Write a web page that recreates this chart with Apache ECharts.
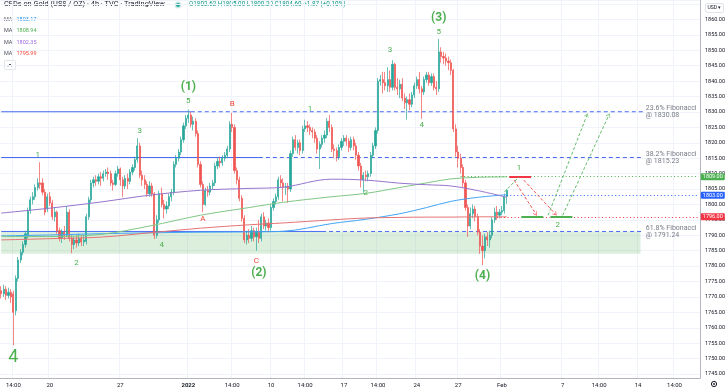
<!DOCTYPE html>
<html><head><meta charset="utf-8">
<script src="https://cdn.jsdelivr.net/npm/echarts@6/dist/echarts.min.js"></script>
<style>html,body{margin:0;padding:0;background:#fff}#c{width:728px;height:391px}</style>
</head><body><div id="c"></div>
<script>
// ---------- data ----------
const slotCount = 288;               // time slots on the axis (candles + future space)
// [open, close, low, high]
const candles = [
[1772.0,1771.0,1769.5,1773.5],[1771.0,1772.5,1770.0,1774.0],[1772.5,1770.5,1769.0,1773.5],[1770.5,1771.5,1769.5,1773.0],[1771.5,1770.0,1768.0,1772.5],
[1771.0,1765.0,1754.3,1772.0],[1765.5,1776.0,1764.0,1777.0],[1776.0,1782.0,1775.0,1783.0],[1782.0,1784.5,1781.0,1785.5],[1784.5,1787.0,1783.5,1788.0],
[1787.0,1790.5,1786.0,1791.5],[1789.5,1798.0,1789.0,1799.0],[1798.0,1801.5,1797.0,1802.5],[1801.5,1802.5,1800.0,1804.0],[1802.5,1805.5,1801.5,1806.5],
[1805.5,1807.0,1804.5,1808.5],[1807.0,1806.5,1805.0,1813.7],[1807.0,1804.0,1803.0,1808.5],[1804.0,1797.5,1796.5,1805.0],[1798.5,1802.5,1797.5,1803.5],
[1802.5,1800.5,1799.5,1804.0],[1800.5,1796.0,1795.0,1801.5],[1796.0,1797.5,1794.5,1799.0],[1797.5,1791.5,1790.5,1798.0],[1791.5,1789.0,1788.0,1792.5],
[1789.0,1791.0,1787.5,1792.0],[1791.0,1790.0,1788.5,1793.0],[1790.0,1797.5,1789.5,1799.5],[1797.5,1789.0,1788.0,1798.5],[1789.0,1787.0,1784.2,1790.0],
[1787.0,1788.5,1785.5,1789.5],[1788.5,1787.5,1786.0,1790.0],[1787.5,1789.0,1786.5,1790.5],[1789.0,1787.8,1786.5,1790.0],[1787.8,1788.5,1786.5,1790.0],
[1788.0,1796.0,1787.0,1797.0],[1796.0,1801.5,1795.0,1802.5],[1801.5,1807.0,1800.5,1808.0],[1807.0,1808.0,1805.5,1809.0],[1808.0,1807.5,1806.0,1809.5],
[1807.5,1809.0,1806.5,1810.0],[1809.0,1808.5,1806.0,1810.5],[1808.5,1810.0,1807.5,1811.0],[1810.0,1810.5,1809.0,1811.5],[1810.5,1810.0,1808.0,1812.0],
[1810.0,1807.0,1806.0,1811.0],[1807.0,1806.5,1804.5,1808.0],[1806.5,1810.0,1806.0,1811.0],[1810.0,1811.5,1809.0,1812.5],[1811.5,1808.0,1806.0,1812.0],
[1808.0,1806.0,1802.5,1809.0],[1806.0,1808.5,1805.0,1809.5],[1808.5,1807.5,1805.0,1810.0],[1807.5,1810.5,1806.5,1811.5],[1810.5,1812.0,1809.5,1813.0],
[1812.0,1814.5,1811.0,1815.5],[1814.5,1819.0,1813.5,1821.5],[1819.0,1809.5,1808.5,1820.0],[1809.5,1808.0,1806.0,1811.0],[1808.0,1806.5,1805.0,1809.5],
[1806.5,1803.5,1802.5,1807.5],[1803.5,1806.0,1802.5,1807.5],[1806.0,1803.5,1802.5,1807.0],[1803.5,1790.0,1788.8,1804.0],[1790.0,1795.0,1789.0,1796.5],
[1795.0,1803.5,1794.0,1804.5],[1803.5,1800.0,1799.0,1805.5],[1800.0,1798.5,1795.5,1801.5],[1798.5,1799.5,1797.0,1801.0],[1799.5,1802.5,1798.5,1803.5],
[1802.5,1804.0,1801.0,1805.0],[1804.0,1813.0,1803.0,1814.0],[1813.0,1815.0,1812.0,1816.0],[1815.0,1817.0,1814.0,1818.0],[1817.0,1821.0,1816.0,1822.0],
[1821.0,1825.5,1820.0,1826.5],[1825.5,1828.0,1824.5,1829.0],[1828.0,1829.0,1826.5,1830.8],[1829.0,1826.0,1825.0,1830.0],[1826.0,1827.0,1824.0,1828.5],
[1827.0,1823.0,1822.0,1828.0],[1823.0,1813.0,1812.0,1824.0],[1813.0,1806.5,1805.5,1814.0],[1806.5,1800.0,1797.5,1807.5],[1800.0,1804.5,1799.5,1805.5],
[1804.5,1804.0,1802.5,1806.0],[1804.0,1806.0,1803.0,1807.0],[1806.0,1807.0,1805.0,1808.0],[1807.0,1812.5,1806.0,1813.5],[1812.5,1814.0,1811.5,1815.0],
[1814.0,1813.5,1812.0,1815.5],[1813.5,1815.0,1812.5,1816.0],[1815.0,1816.0,1814.0,1817.0],[1816.0,1818.0,1815.0,1819.0],[1818.0,1826.0,1817.0,1827.0],
[1826.0,1825.0,1823.5,1829.7],[1825.0,1811.0,1810.0,1826.0],[1811.0,1808.0,1806.5,1812.0],[1808.0,1802.0,1801.0,1809.0],[1802.0,1795.5,1794.5,1803.0],
[1795.5,1788.5,1787.5,1796.5],[1788.5,1790.0,1787.0,1791.5],[1790.0,1789.0,1787.5,1792.0],[1789.0,1791.5,1788.0,1793.0],[1791.5,1789.5,1788.0,1792.5],
[1789.5,1791.0,1785.0,1792.5],[1791.0,1789.0,1787.5,1795.0],[1789.0,1796.0,1788.0,1797.0],[1796.0,1793.0,1792.0,1797.5],[1793.0,1794.0,1791.5,1795.0],
[1794.0,1792.5,1791.0,1795.5],[1792.5,1799.0,1791.5,1800.0],[1799.0,1801.0,1798.0,1802.0],[1801.0,1802.5,1800.0,1803.5],[1802.5,1808.0,1801.5,1809.0],
[1808.0,1807.0,1805.5,1809.5],[1807.0,1805.5,1801.0,1808.5],[1805.5,1805.8,1803.0,1807.0],[1805.8,1805.0,1800.5,1807.0],[1805.0,1816.5,1804.0,1817.5],
[1816.5,1821.0,1815.5,1822.0],[1821.0,1818.5,1817.5,1822.5],[1818.5,1820.0,1816.5,1821.0],[1820.0,1817.5,1816.0,1821.0],[1817.5,1824.5,1816.5,1825.5],
[1824.5,1825.5,1823.5,1827.5],[1825.5,1825.0,1823.5,1827.0],[1825.0,1824.0,1822.5,1826.0],[1824.0,1823.5,1821.5,1825.0],[1823.5,1821.5,1820.0,1824.5],
[1821.5,1818.0,1816.5,1822.5],[1818.0,1819.5,1811.5,1820.5],[1819.5,1821.5,1818.5,1822.5],[1821.5,1822.5,1820.0,1824.0],[1822.5,1827.0,1821.5,1828.0],
[1827.0,1825.0,1823.5,1829.0],[1825.0,1818.0,1817.0,1826.0],[1818.0,1817.5,1815.0,1819.5],[1817.5,1815.5,1814.0,1818.5],[1815.5,1818.5,1814.5,1819.5],
[1818.5,1820.5,1817.5,1821.5],[1820.5,1821.5,1819.0,1822.5],[1821.5,1820.5,1819.0,1822.5],[1820.5,1818.5,1817.0,1821.5],[1818.5,1821.0,1817.5,1822.0],
[1821.0,1819.0,1817.5,1822.0],[1819.0,1816.0,1814.5,1820.0],[1816.0,1812.5,1811.0,1817.0],[1812.5,1808.0,1805.5,1813.5],[1808.0,1809.5,1803.8,1810.5],
[1809.5,1809.0,1807.5,1811.0],[1809.0,1810.0,1807.5,1811.0],[1810.0,1816.0,1809.0,1817.0],[1816.0,1819.0,1815.0,1820.0],[1819.0,1824.0,1818.0,1825.0],
[1824.0,1840.0,1823.0,1841.0],[1840.0,1840.5,1838.5,1842.0],[1840.5,1839.5,1836.0,1843.0],[1839.5,1838.5,1837.0,1843.0],[1838.5,1840.5,1836.5,1844.5],
[1840.5,1838.0,1836.5,1843.5],[1838.0,1845.5,1837.0,1846.8],[1845.5,1838.0,1837.0,1846.0],[1838.0,1837.5,1835.5,1841.0],[1837.5,1839.0,1834.5,1840.5],
[1839.0,1834.5,1833.5,1841.0],[1834.5,1833.0,1831.0,1836.0],[1833.0,1834.0,1827.5,1835.0],[1834.0,1832.5,1830.5,1836.0],[1832.5,1835.5,1831.5,1836.5],
[1835.5,1838.5,1834.5,1839.5],[1838.5,1840.5,1837.5,1841.5],[1840.5,1837.5,1836.0,1843.0],[1837.5,1836.5,1827.8,1838.5],[1836.5,1840.5,1835.5,1841.5],
[1840.5,1842.0,1839.5,1843.0],[1842.0,1839.5,1838.5,1843.0],[1839.5,1841.5,1838.5,1842.5],[1841.5,1838.0,1837.0,1842.5],[1838.0,1837.5,1835.5,1840.0],
[1837.5,1849.5,1836.5,1853.7],[1849.5,1848.0,1846.0,1851.0],[1848.0,1847.5,1845.5,1849.5],[1847.5,1846.5,1845.0,1849.0],[1846.5,1846.0,1843.5,1848.0],
[1846.0,1843.5,1842.0,1847.0],[1843.5,1824.5,1823.5,1844.0],[1824.5,1817.0,1815.5,1826.0],[1817.0,1815.0,1812.0,1819.0],[1815.0,1812.0,1810.0,1816.5],
[1812.0,1807.0,1805.5,1813.0],[1807.0,1799.0,1798.0,1808.0],[1799.0,1793.0,1789.5,1800.0],[1793.0,1797.0,1792.0,1799.0],[1797.0,1798.5,1795.5,1800.0],
[1798.5,1796.0,1794.5,1799.5],[1796.0,1791.0,1790.0,1797.0],[1791.0,1786.5,1784.0,1792.0],[1786.5,1785.0,1780.3,1790.0],[1785.0,1789.5,1782.5,1790.5],
[1789.5,1788.5,1786.5,1791.0],[1788.5,1790.0,1786.0,1791.5],[1790.0,1795.0,1789.0,1796.0],[1795.0,1797.5,1794.0,1799.0],[1797.5,1796.5,1795.0,1799.5],
[1796.5,1797.5,1795.5,1798.5],[1797.5,1798.0,1796.5,1799.5],[1798.0,1802.62,1797.0,1803.5],[1802.62,1804.60,1800.20,1805.00]
];
// moving averages, read at sample bars
const maIdx    = [0,      20,     41,     61,     82,     102,    116,    136,    150,    164,    175,    185,    196,    208];
const maBlue   = [1789.8, 1790.1, 1790.5, 1790.8, 1791.0, 1791.1, 1791.3, 1793.8, 1795.2, 1797.0, 1799.0, 1801.0, 1802.3, 1803.17];
const maGreen  = [1789.6, 1789.6, 1790.3, 1793.0, 1796.5, 1799.0, 1800.7, 1802.5, 1803.6, 1805.5, 1807.0, 1808.3, 1808.8, 1808.94];
const maPurple = [1797.2, 1798.8, 1800.8, 1803.0, 1804.6, 1805.2, 1805.6, 1808.2, 1807.9, 1806.9, 1806.4, 1806.0, 1804.5, 1802.35];
const maRed    = [1788.5, 1788.9, 1789.4, 1790.8, 1792.3, 1793.4, 1794.0, 1795.0, 1795.6, 1795.8, 1795.9, 1795.9, 1796.0, 1795.99];
// x-axis tick labels
const xLabelIdx  = [5, 20, 49, 77, 95, 111, 125, 141, 155, 171, 188, 206, 231, 246, 262, 277];
const xLabelText = ['14:00','20','27','2022','14:00','10','14:00','17','14:00','24','27','Feb','7','14:00','14','14:00'];
// fibonacci levels
const fibPct    = ['23.6%','38.2%','61.8%'];
const fibLevels = [1830.08, 1815.23, 1791.24];
const fibSolidEnd = [78, 106, 132];
const fibEnd = 264;
const zoneLow = 1784.0;   // bottom of the green support zone
// price tags on the axis
const tagValues = [1809.00, 1804.60, 1803.00, 1796.00];
const tagFrom   = [189, 208, 208, 204];
// elliott wave labels
const waveText  = ['4','1','2','3','4','5','(1)','A','B','C','(2)','1','2','3','4','5','(3)','(4)','1','2'];
const waveIdx   = [5,15,31,57,66,77,77,83,95,105,106,127,150,160,173,180,180,198,213,229];
const wavePrice = [1750.4,1816.0,1781.0,1823.8,1786.8,1833.5,1838.1,1795.2,1832.6,1781.6,1777.7,1831.0,1803.7,1850.1,1825.7,1855.9,1860.5,1776.7,1811.8,1793.3];
// projected path
const projTarget1 = 1809.00, projTarget2 = 1796.00;
const projRedSeg = [209, 218];
const projGreenSegs = [[214, 223], [226, 235]];
const projDown = [[[211,1807.9],[220,1796.9]], [[215,1807.9],[228,1796.9]]];
const projUp   = [[[225,1796.5],[241,1829.0]], [[231,1796.5],[250,1829.0]], [[207,1804.0],[213,1808.9]]];

// ---------- build ----------
const cats = Array.from({length: slotCount}, (_, i) => String(i));
const labelMap = {};
xLabelIdx.forEach((ix, k) => labelMap[ix] = xLabelText[k]);
function sparse(vals) {
  const arr = new Array(candles.length).fill(null);
  maIdx.forEach((ix, k) => arr[ix] = vals[k]);
  return arr;
}
const GREEN = '#4caf50', RED = '#f23645', BLUE = '#2962ff', TEAL = '#22ab94';
const UP = '#26a69a', DOWN = '#ef5350';
const FONT = 'Roboto, "Liberation Sans", sans-serif';

const markLines = [];
const tagColors = [GREEN, TEAL, BLUE, RED];
tagValues.forEach((v, k) => {
  markLines.push([
    {coord:[tagFrom[k], v], lineStyle:{color:tagColors[k], width:1, type:[1,2.5], opacity: k === 1 ? 0 : 1},
     label:{show:true, position:'end', distance:2, formatter: v.toFixed(2), color:'#fff', backgroundColor:tagColors[k],
            fontSize:5.5, fontFamily:FONT, padding:[1,2,0,2], lineHeight:6, borderRadius:1}},
    {coord:[slotCount - 1, v]}]);
});
markLines.push([{coord:[projRedSeg[0], projTarget1], lineStyle:{color:RED, width:2, type:'solid'}}, {coord:[projRedSeg[1], projTarget1]}]);
projGreenSegs.forEach(s => markLines.push([{coord:[s[0], projTarget2], lineStyle:{color:GREEN, width:2, type:'solid'}}, {coord:[s[1], projTarget2]}]));
const chevron = 'path://M0,10L5,0L10,10L8.6,10L5,3L1.4,10Z';
projDown.forEach(p => markLines.push([{coord:p[0], lineStyle:{color:'#ef5350', width:1, type:[3,2]}}, {coord:p[1], symbol:chevron, symbolSize:[5,4]}]));
projUp.forEach((p, k) => markLines.push([{coord:p[0], lineStyle:{color:'#66bb6a', width:1, type:[3,2]}}, {coord:p[1], symbol: k < 2 ? chevron : 'none', symbolSize:[5,4]}]));

const markPoints = waveText.map((t, k) => {
  const isABC = ['A','B','C'].includes(t);
  const big = k === 0;
  const paren = t.startsWith('(');
  return {coord:[waveIdx[k], wavePrice[k]], symbol:'circle', symbolSize:1, itemStyle:{color:'rgba(0,0,0,0)'},
    label:{show:true, formatter:t, position:'inside', color: isABC ? '#f44336' : GREEN, fontFamily:FONT,
           fontSize: big ? 18 : (paren ? 12 : 8), fontWeight: paren ? 'bold' : 'normal'}};
});
fibLevels.forEach((lv, k) => markPoints.push({coord:[fibEnd + 1, lv], symbol:'circle', symbolSize:1, itemStyle:{color:'rgba(0,0,0,0)'},
  label:{show:true, position:'right', distance:0, align:'left', verticalAlign:'middle', formatter: fibPct[k] + ' Fibonacci\n@ ' + lv.toFixed(2),
         color:'#787b86', fontSize:7, lineHeight:7, fontFamily:FONT}}));

const maColors = ['#2196f3', '#4caf50', '#9c6ade', '#f44336'];
const maLineColors = ['#42a5f5', '#81c784', '#9575cd', '#e57373'];
const maVals = [maBlue, maGreen, maPurple, maRed];

const chart = echarts.init(document.getElementById('c'), null, {renderer:'canvas'});
const graphic = [
  {type:'text', left:4, top:1, style:{text:'CFDs on Gold (US$ / OZ) · 4h · TVC · TradingView', fontSize:7.4, fill:'#131722', fontFamily:FONT}},
  {type:'circle', shape:{cx:178, cy:5, r:3.4}, style:{fill:'rgba(38,166,154,0.25)'}},
  {type:'circle', shape:{cx:178, cy:5, r:2}, style:{fill:UP}},
  {type:'text', left:189, top:1.5, style:{text:'O1802.62 H1805.00 L1800.20 C1804.60 +1.87 (+0.10%)', fontSize:6.3, fill:'#089981', fontFamily:FONT}},
  {type:'rect', shape:{x:4.5, y:60.5, width:11, height:9, r:1}, style:{fill:'#fff', stroke:'#e0e3eb'}},
  {type:'polyline', shape:{points:[[8,66.5],[10,64],[12,66.5]]}, style:{stroke:'#131722', lineWidth:0.8, fill:null}},
  {type:'rect', shape:{x:705.5, y:3.5, width:18, height:9, r:1.5}, style:{fill:'#fff', stroke:'#e0e3eb'}},
  {type:'text', left:707.5, top:5.5, style:{text:'USD ▾', fontSize:5, fill:'#131722', fontFamily:FONT}},
  {type:'circle', shape:{cx:714, cy:384, r:2.6}, style:{fill:'#fff', stroke:'#131722', lineWidth:1}},
  {type:'circle', shape:{cx:714, cy:384, r:0.9}, style:{fill:'#131722'}}
];
maVals.forEach((vals, k) => {
  graphic.push({type:'text', left:4, top:16.5 + k * 11.4, style:{text:'MA', fontSize:5.5, fill:'#50535e', fontFamily:FONT}});
  graphic.push({type:'text', left:16.5, top:16.5 + k * 11.4, style:{text: vals[vals.length - 1].toFixed(2), fontSize:5.5, fill:maColors[k], fontFamily:FONT}});
});

const series = [{
  type:'candlestick', data:candles, barWidth:'68%',
  itemStyle:{color:UP, color0:DOWN, borderColor:UP, borderColor0:DOWN, borderWidth:0.7},
  markArea:{silent:true, itemStyle:{color:'rgba(76,175,80,0.2)'}, data:[[{coord:[0, fibLevels[2]]}, {coord:[fibEnd - 1, zoneLow]}]]},
  markLine:{silent:true, symbol:['none','none'], label:{show:false}, animation:false, data:markLines},
  markPoint:{silent:true, animation:false, data:markPoints},
  animation:false
}];
// fibonacci horizontal lines: solid part then dashed part
fibLevels.forEach((lv, k) => {
  series.push({type:'line', data:[[0, lv], [fibSolidEnd[k], lv]], showSymbol:false, silent:true, z:1,
    lineStyle:{color:'#4a6cf4', width:1, type:'solid'}, animation:false});
  series.push({type:'line', data:[[fibSolidEnd[k], lv], [fibEnd, lv]], showSymbol:false, silent:true, z:1,
    lineStyle:{color:'#4a6cf4', width:1, type:[4,3]}, animation:false});
});
maVals.forEach((vals, k) => series.push({
  type:'line', data:sparse(vals), connectNulls:true, smooth:0.35, showSymbol:false, silent:true,
  lineStyle:{color:maLineColors[k], width:1}, z:3, animation:false
}));

chart.setOption({
  animation:false,
  backgroundColor:'#fff',
  grid:{left:0, right:28, top:0, bottom:13},
  graphic,
  xAxis:{type:'category', data:cats, boundaryGap:true,
    axisLine:{show:true, lineStyle:{color:'#b2b5be', width:1}},
    axisTick:{show:false},
    axisLabel:{interval:(i) => labelMap[i] !== undefined, margin:4, fontSize:6, color:'#131722', fontFamily:FONT,
      formatter:(v, i) => labelMap[i] === '2022' ? '{b|2022}' : (labelMap[i] || ''),
      rich:{b:{fontWeight:'bold', fontSize:6, fontFamily:FONT, color:'#131722'}}},
    splitLine:{show:true, interval:(i) => labelMap[i] !== undefined, lineStyle:{color:'#f0f3fa', width:1}}
  },
  yAxis:{type:'value', position:'right', min:1743.7, max:1866.33, splitNumber:25, scale:true,
    axisLine:{show:true, lineStyle:{color:'#b2b5be', width:1}},
    axisTick:{show:false},
    axisLabel:{margin:5, fontSize:5.5, color:'#131722', fontFamily:FONT, showMinLabel:false, showMaxLabel:false,
      formatter:(v) => v > 1862 ? '' : v.toFixed(2)},
    splitLine:{show:true, lineStyle:{color:'#f0f3fa', width:1}}
  },
  series
});
</script></body></html>
